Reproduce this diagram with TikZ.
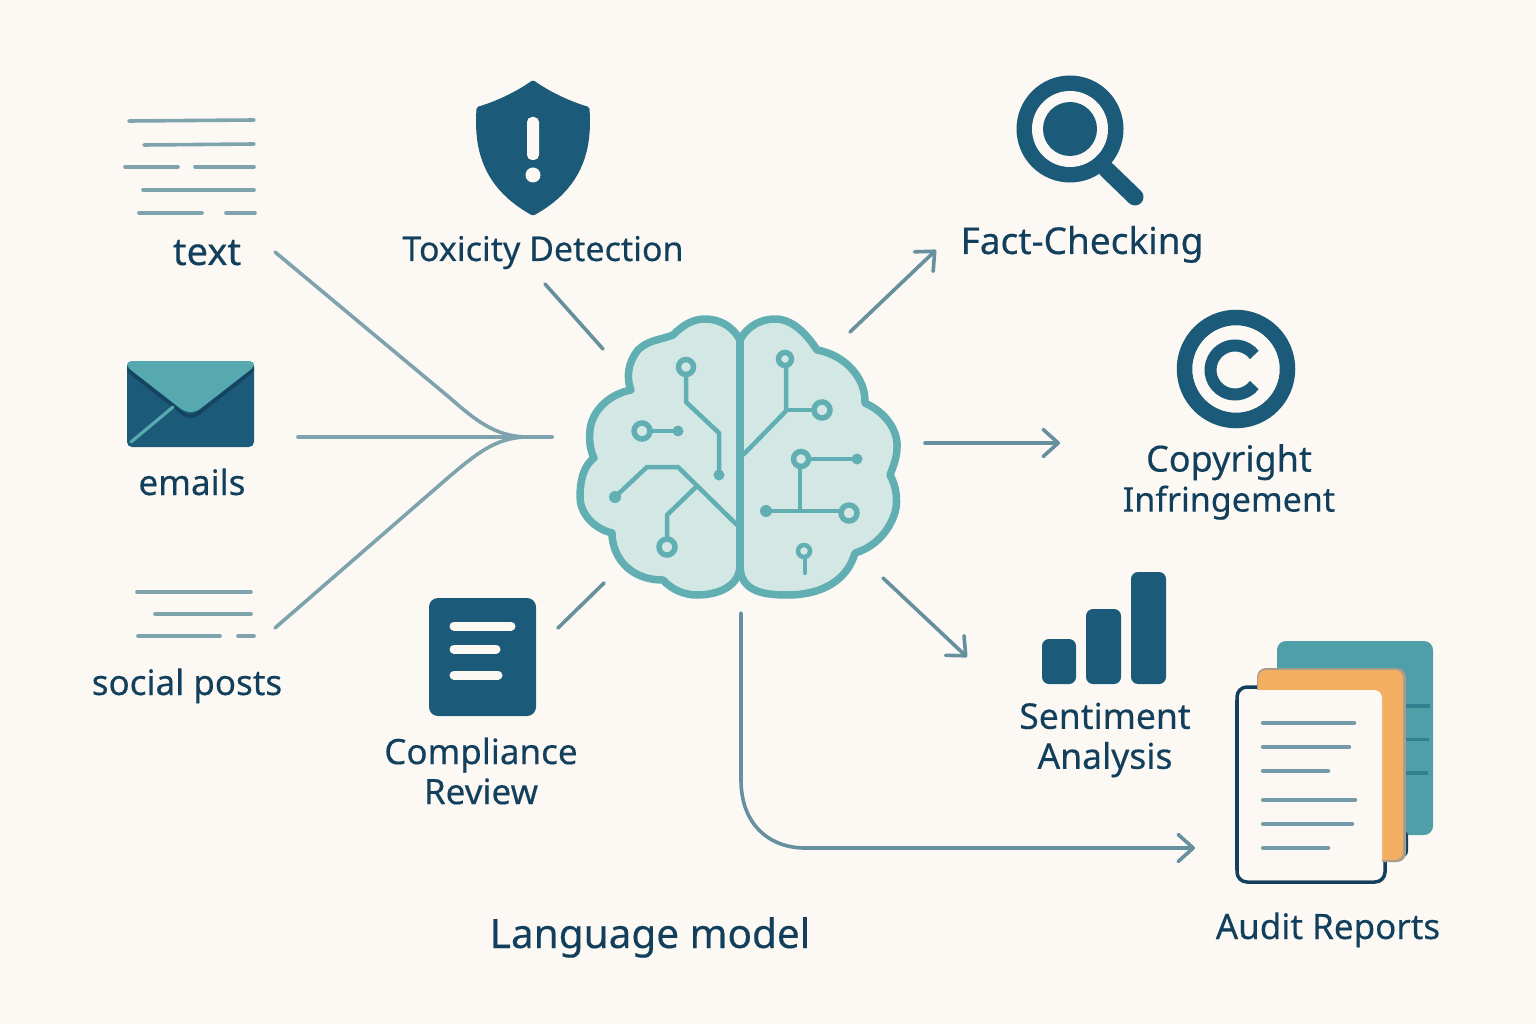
\documentclass[tikz,border=0pt]{standalone}
\usepackage{fontspec}
\setmainfont[FakeBold=0.3]{Noto Sans}
\usetikzlibrary{arrows.meta}
\definecolor{bgc}{HTML}{FCF9F4}
\definecolor{navy}{HTML}{1B5A78}
\definecolor{ink}{HTML}{123F5C}
\definecolor{teal}{HTML}{62AFB3}
\definecolor{brainfill}{HTML}{D3E8E5}
\definecolor{lineL}{HTML}{7FA3AD}
\definecolor{lineR}{HTML}{66909E}
\definecolor{flap}{HTML}{57A9B0}
\definecolor{paperT}{HTML}{4F9FA8}
\definecolor{paperTd}{HTML}{317F8F}
\definecolor{paperO}{HTML}{F4AE62}
\definecolor{paperE}{HTML}{A89C8C}
\newcommand{\fs}[1]{\fontsize{#1}{40}\selectfont}
\tikzset{
  lbl/.style={text=ink,font=\fs{35},inner sep=0pt,anchor=base,align=center},
  lbltwo/.style={text=ink,font=\fs{35},inner sep=0pt,anchor=center,align=center},
  conn/.style={draw=lineL,line width=3.6pt,line cap=round},
  arr/.style={draw=lineR,line width=3.6pt,line cap=round,line join=round,-{Straight Barb[length=15pt,width=27pt,line width=3.6pt,round]}},
  rule/.style={draw=lineL,line width=3.6pt,line cap=round},
  docrule/.style={draw=lineR!90!white,line width=4.5pt,line cap=round},
  icon/.style={fill=navy},
  wire/.style={draw=teal,line width=4.5pt,line join=round},
  ring/.style={draw=teal,line width=5.5pt,fill=brainfill},
  pin/.style={fill=teal},
  lobe/.style={draw=teal,line width=7.5pt,line join=round,fill=brainfill},
}
\begin{document}
\begin{tikzpicture}[x=1pt,y=-1pt]
\useasboundingbox (0,0) rectangle (1536,1024);
\fill[bgc] (0,0) rectangle (1536,1024);

% text lines icon
\draw[rule] (129,121)--(254,120);
\draw[rule] (144,145)--(254,144);
\draw[rule] (125,167)--(178,167);
\draw[rule] (195,167)--(254,167);
\draw[rule] (143,190)--(254,190);
\draw[rule] (139,213)--(202,213);
\draw[rule] (226,213)--(255,213);
\node[lbl,font=\fs{38}] (ltext) at (207,265) {text};

% envelope
\fill[icon,rounded corners=5pt] (127,361) rectangle (254,447);
\fill[ink!80!navy,rounded corners=4pt] (127,367)--(186,414)--(195,414)--(254,367)--(254,372)--(195,418)--(186,418)--(127,372)--cycle;
\fill[flap,rounded corners=5pt] (127,367)--(127,361)--(254,361)--(254,367)--(196,412)--(185,412)--cycle;
\draw[draw=flap,line width=3.2pt,line cap=round] (131,442)--(173,407);
\node[lbl] (lemails) at (192,495) {emails};

% social lines
\draw[rule] (137,592)--(251,592);
\draw[rule] (155,614)--(251,614);
\draw[rule] (138,636)--(220,636);
\draw[rule] (238,636)--(254,636);
\node[lbl] (lsocial) at (187,695) {social posts};

% shield
\filldraw[fill=navy,draw=navy,line width=5pt,line join=round] (533,83) .. controls (550,95) and (570,104) .. (587,109)
  .. controls (590,150) and (580,187) .. (533,213) .. controls (486,187) and (476,150) .. (479,109)
  .. controls (496,104) and (516,95) .. (533,83) -- cycle;
\fill[bgc,rounded corners=5pt] (527,117) rectangle (539,160);
\fill[bgc] (533,175) circle[radius=7.5];
\node[lbl,font=\fs{34}] (ltox) at (543,261) {Toxicity Detection};

% magnifier
\draw[navy,line width=17pt,line cap=round] (1107,170)--(1135,197);
\fill[icon] (1070,129) circle[radius=53.5];
\fill[bgc] (1070,129) circle[radius=38];
\fill[icon] (1070,129) circle[radius=27];
\node[lbl,font=\fs{37}] (lfact) at (1082,254) {Fact-Checking};

% copyright
\draw[navy,line width=15.5pt] (1236,369) circle[radius=51.5];
\draw[navy,line width=12pt] (1235,370) ++(38:24.5) arc[start angle=38,end angle=322,radius=24.5];
\node[lbltwo] (lcopy) at (1229,482) {{\fs{36}Copyright}\\{\fs{34}Infringement}};

% bars
\fill[icon,rounded corners=7pt] (1042,639) rectangle (1076,684);
\fill[icon,rounded corners=7pt] (1086,609) rectangle (1121,684);
\fill[icon,rounded corners=7pt] (1131,572) rectangle (1166,684);
\node[lbltwo,font=\fs{35.5}] (lsent) at (1105,740) {Sentiment\\Analysis};

% compliance doc
\fill[icon,rounded corners=9pt] (429,598) rectangle (536,716);
\draw[bgc,line width=9pt,line cap=round] (454,626)--(511,626);
\draw[bgc,line width=9pt,line cap=round] (454,649)--(496,649);
\draw[bgc,line width=9pt,line cap=round] (454,675)--(498,675);
\node[lbltwo] (lcomp) at (481,771) {Compliance\\Review};

% report stack
\fill[paperT,rounded corners=9pt] (1277,641) rectangle (1433,835);
\draw[paperTd,line width=3.5pt] (1404,706)--(1430,706);
\draw[paperTd,line width=3.5pt] (1404,739.5)--(1429,739.5);
\draw[paperTd,line width=3.5pt] (1404,773)--(1428,773);
\draw[ink,line width=3.5pt,fill=bgc,rounded corners=10pt] (1237,687) rectangle (1385,882);
\fill[ink,rounded corners=6pt] (1380,830) rectangle (1408,857);
\fill[paperE,rounded corners=9pt] (1257,668) rectangle (1406,862);
\fill[paperO,rounded corners=8pt] (1258,670) rectangle (1403,860);
\fill[bgc,rounded corners=8pt] (1240,690) rectangle (1382,880);
\draw[ink,line width=3.5pt] (1237,700)--(1237,870);
\draw[docrule] (1263,723)--(1354,723);
\draw[docrule] (1263,747)--(1349,747);
\draw[docrule] (1263,771)--(1328,771);
\draw[docrule] (1263,800)--(1355,800);
\draw[docrule] (1263,824)--(1352,824);
\draw[docrule] (1263,848)--(1328,848);
\node[lbl] (laudit) at (1328,939) {Audit Reports};
\node[lbl,font=\fs{40.5}] (lmodel) at (650,948) {Language model};

% brain
\path[lobe] (740,340) .. controls (732,325) and (718,319) .. (705,319)
  .. controls (692,319) and (682,326) .. (673,335)
  .. controls (660,340) and (648,340) .. (638,350)
  .. controls (628,362) and (626,378) .. (631,390)
  .. controls (610,394) and (592,410) .. (590,430)
  .. controls (589,440) and (590,450) .. (594,458)
  .. controls (583,466) and (580,482) .. (580,497)
  .. controls (580,512) and (592,528) .. (612,533)
  .. controls (612,555) and (628,580) .. (663,580)
  .. controls (672,590) and (685,595) .. (697,595)
  .. controls (720,595) and (740,585) .. (740,565) -- cycle;
\path[lobe] (740,340) .. controls (748,325) and (762,319) .. (775,319)
  .. controls (792,319) and (806,333) .. (817,350)
  .. controls (845,355) and (866,378) .. (865,403)
  .. controls (885,412) and (898,430) .. (897,447)
  .. controls (897,458) and (893,467) .. (890,475)
  .. controls (897,487) and (899,505) .. (893,518)
  .. controls (886,535) and (872,548) .. (855,553)
  .. controls (848,578) and (825,595) .. (787,595)
  .. controls (760,595) and (740,590) .. (740,565) -- cycle;
\draw[draw=teal,line width=8pt] (740,340)--(740,565);
% circuits left
\draw[wire] (686,367)--(686,402)--(719,433)--(719,475);
\fill[pin] (719,475) circle[radius=5.5];
\draw[ring] (686,367) circle[radius=7.5];
\draw[wire] (642,431)--(678,431);
\fill[pin] (678,431) circle[radius=5.5];
\draw[ring] (642,431) circle[radius=8];
\draw[wire] (615,497)--(647,467)--(678,467)--(737,525);
\fill[pin] (615,497) circle[radius=6];
\draw[wire] (696,487)--(667,515)--(667,547);
\draw[ring] (667,547) circle[radius=8];
% circuits right
\draw[wire] (786,359)--(786,411)--(743,455);
\draw[ring] (785,359) circle[radius=6.5];
\draw[wire] (786,410)--(822,410);
\draw[ring] (822,410) circle[radius=8];
\draw[wire] (800,459)--(857,459);
\draw[wire] (800,459)--(800,511);
\fill[pin] (857,459) circle[radius=5.5];
\draw[ring] (801,459) circle[radius=7.5];
\draw[wire] (766,511)--(849,511);
\fill[pin] (766,511) circle[radius=6];
\draw[ring] (849,513) circle[radius=8];
\draw[wire,line cap=round] (805,551)--(805,573);
\draw[ring,line width=4.5pt] (804,551) circle[radius=6];

% connectors
\coordinate (inT) at (275,252);
\coordinate (inE) at (298,437);
\coordinate (inS) at (275,628);
\coordinate (mergeEnd) at (552,437);
\coordinate (toxA) at (545,284);
\coordinate (toxB) at (603,349);
\coordinate (compA) at (558,628);
\coordinate (compB) at (604,583);
\coordinate (factA) at (850,332);
\coordinate (factB) at (936,250);
\coordinate (copyA) at (925,443);
\coordinate (copyB) at (1060,443);
\coordinate (sentA) at (883,578);
\coordinate (sentB) at (967,657);
\coordinate (audA) at (741,613);
\coordinate (audB) at (1195,848);
\draw[conn] (inE)--(mergeEnd);
\draw[conn] (inT)--(450,398) .. controls (475,420) and (495,436) .. (525,437)--(mergeEnd);
\draw[conn] (inS)--(450,476) .. controls (475,455) and (495,438) .. (525,437)--(mergeEnd);
\draw[conn,draw=lineR] (toxA)--(toxB);
\draw[conn,draw=lineR] (compA)--(compB);
\draw[arr] (factA)--(factB);
\draw[arr] (copyA)--(copyB);
\draw[arr] (sentA)--(sentB);
\draw[arr] (audA)--(741,780) .. controls (741,825) and (770,848) .. (805,848)--(audB);
\end{tikzpicture}
\end{document}
